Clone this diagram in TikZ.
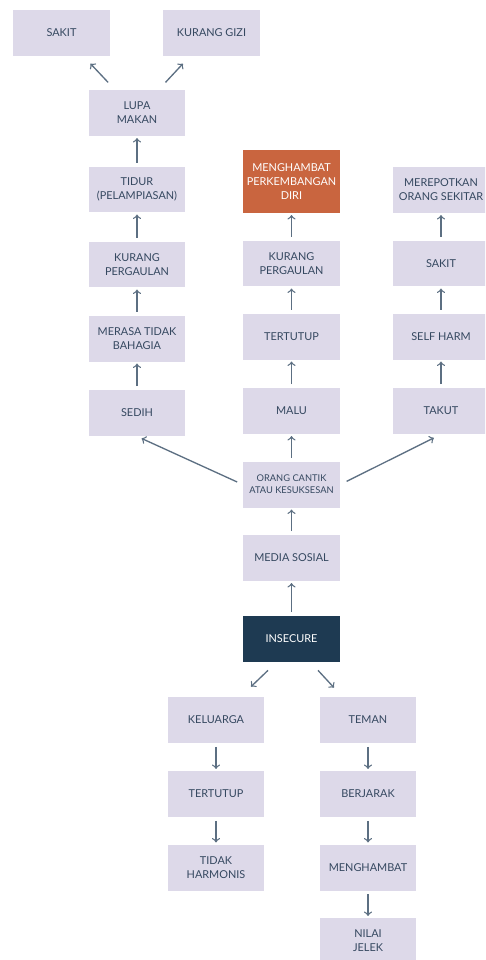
\documentclass[tikz,border=0pt]{standalone}
\usepackage{fontspec}
\setmainfont{Lato}
\definecolor{boxfill}{HTML}{DDD9E9}
\definecolor{boxtext}{HTML}{354860}
\definecolor{arrowcol}{HTML}{5C6F82}
\definecolor{orangebox}{HTML}{C9653F}
\definecolor{navybox}{HTML}{1E3A52}
\begin{document}
\begin{tikzpicture}
  [x=0.02cm,y=-0.02cm,
   every node/.style={rectangle,fill=boxfill,text=boxtext,align=center,
     minimum width=1.94cm,minimum height=0.92cm,inner sep=0pt,
     font=\fontsize{6.2pt}{8pt}\selectfont},
   arr/.style={->,draw=arrowcol,line width=0.75pt,shorten <=2pt,shorten >=1pt}]
  \clip (0,0) rectangle (485,960);
  \fill[white] (0,0) rectangle (485,960);

  % left column
  \node (sakit) at (61.5,33) {SAKIT};
  \node (gizi) at (211.5,33) {KURANG GIZI};
  \node (lupa) at (137,113) {LUPA\\MAKAN};
  \node (tidur) at (137,189.5) {TIDUR\\(PELAMPIASAN)};
  \node (kurangL) at (137,264.5) {KURANG\\PERGAULAN};
  \node (merasa) at (137,338.5) {MERASA TIDAK\\BAHAGIA};
  \node (sedih) at (137,413) {SEDIH};

  % middle column
  \node[fill=orangebox,text=white,minimum height=1.26cm] (hambat) at (291.5,181.5) {MENGHAMBAT\\PERKEMBANGAN\\DIRI};
  \node (kurangM) at (291.5,263.5) {KURANG\\PERGAULAN};
  \node (tertutupM) at (291.5,336.5) {TERTUTUP};
  \node (malu) at (291.5,411) {MALU};
  \node[font=\fontsize{5.3pt}{6.9pt}\selectfont] (orang) at (291.5,484.5) {ORANG CANTIK\\ATAU KESUKSESAN};
  \node (media) at (291.5,558) {MEDIA SOSIAL};
  \node[fill=navybox,text=white] (insecure) at (291.5,639) {INSECURE};

  % right column
  \node (merepot) at (441,190) {MEREPOTKAN\\ORANG SEKITAR};
  \node (sakitR) at (441,263.5) {SAKIT};
  \node (self) at (441,336.5) {SELF HARM};
  \node (takut) at (441,411) {TAKUT};

  % bottom
  \node (keluarga) at (216,720) {KELUARGA};
  \node (tertutupB) at (216,794) {TERTUTUP};
  \node (tidak) at (216,867.5) {TIDAK\\HARMONIS};
  \node (teman) at (368,720) {TEMAN};
  \node (berjarak) at (368,794) {BERJARAK};
  \node (menghambatB) at (368,867.5) {MENGHAMBAT};
  \node (nilai) at (368,941) {NILAI\\JELEK};

  \foreach \from/\to in {tidur/lupa,kurangL/tidur,merasa/kurangL,sedih/merasa,
      kurangM/hambat,tertutupM/kurangM,malu/tertutupM,orang/malu,media/orang,insecure/media,
      sakitR/merepot,self/sakitR,takut/self,
      keluarga/tertutupB,tertutupB/tidak,teman/berjarak,berjarak/menghambatB,menghambatB/nilai}
    \draw[arr] (\from) -- (\to);

  \draw[arr,shorten <=0.2cm,shorten >=0.2cm] (lupa) -- (sakit);
  \draw[arr,shorten <=0.2cm,shorten >=0.2cm] (lupa) -- (gizi);
  \draw[arr,shorten <=0.12cm,shorten >=0.1cm] (orang.west) -- (sedih.south);
  \draw[arr,shorten <=0.14cm,shorten >=0.16cm] (orang.east) -- (takut.south);
  \draw[arr,shorten <=0pt,shorten >=0pt] ([shift={(-23.5,8)}]insecure.south) -- ([shift={(35,-10)}]keluarga.north);
  \draw[arr,shorten <=0pt,shorten >=0pt] ([shift={(26.5,8)}]insecure.south) -- ([shift={(-34,-9)}]teman.north);

\end{tikzpicture}
\end{document}
